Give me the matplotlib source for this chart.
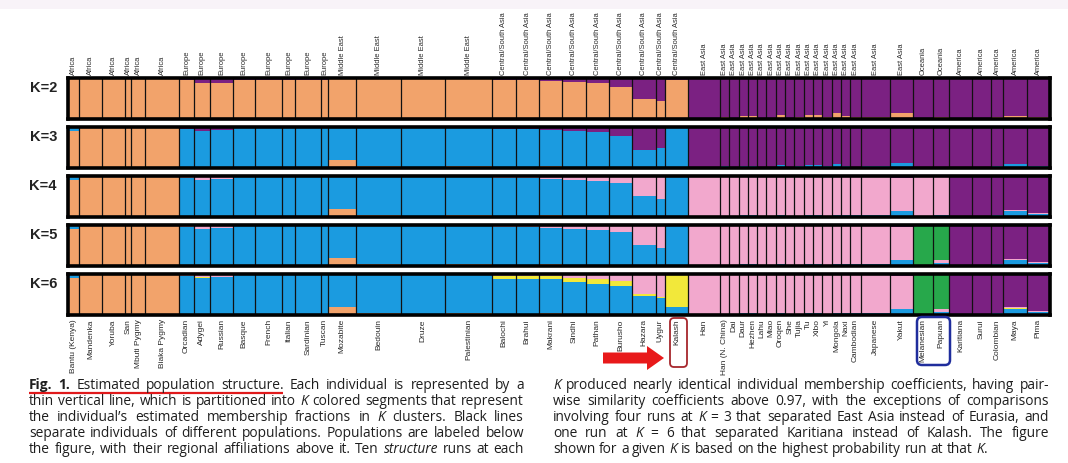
import re
import numpy as np
import matplotlib
matplotlib.use('Agg')
import matplotlib.pyplot as plt
from matplotlib.patches import FancyBboxPatch, FancyArrow, Rectangle

W, H = 1068, 463

# populations, in plot order, with sample sizes (bar widths)
pops = ['Bantu (Kenya)', 'Mandenka', 'Yoruba', 'San', 'Mbuti Pygmy', 'Biaka Pygmy',
        'Orcadian', 'Adygei', 'Russian', 'Basque', 'French', 'Italian', 'Sardinian', 'Tuscan',
        'Mozabite', 'Bedouin', 'Druze', 'Palestinian',
        'Balochi', 'Brahui', 'Makrani', 'Sindhi', 'Pathan', 'Burusho', 'Hazara', 'Uygur', 'Kalash',
        'Han', 'Han (N. China)', 'Dai', 'Daur', 'Hezhen', 'Lahu', 'Miao', 'Oroqen', 'She', 'Tujia',
        'Tu', 'Xibo', 'Yi', 'Mongola', 'Naxi', 'Cambodian', 'Japanese', 'Yakut',
        'Melanesian', 'Papuan',
        'Karitiana', 'Surui', 'Colombian', 'Maya', 'Pima']
sizes = [12, 24, 25, 7, 15, 36,
         16, 17, 25, 24, 29, 13, 28, 8,
         30, 48, 47, 51,
         25, 25, 25, 25, 25, 25, 25, 10, 25,
         34, 10, 10, 10, 10, 10, 10, 10, 10, 10, 10, 10, 10, 10, 10, 11, 31, 25,
         22, 17,
         24, 21, 13, 25, 25]
region_names = ['Africa', 'Europe', 'Middle East', 'Central/South Asia', 'East Asia', 'Oceania', 'America']
region_counts = [6, 8, 4, 9, 18, 2, 5]

# mean membership per population (purple = whatever is left)
k2_orange = [.98, .99, .99, .99, .99, .99,
             .94, .88, .89, .96, .95, .95, .96, .95,
             .97, .98, .97, .98,
             .94, .94, .92, .90, .88, .78, .50, .45, .96,
             .03, .05, .02, .08, .08, .02, .03, .10, .03, .05, .10, .10, .05, .14, .07, .05, .06, .15,
             .03, .04,
             .01, .01, .05, .08, .05]

k3_orange = [.90, .97, .98, .98, .98, .98,
             .01, .01, .01, .01, .01, .01, .01, .01,
             .20, .06, .02, .05,
             .02, .02, .05, .02, .01, .01, .01, .01, .01,
             0, 0, 0, 0, 0, 0, 0, 0, 0, 0, 0, 0, 0, 0, 0, 0, 0, 0,
             0, 0,
             0, 0, 0, 0, 0]
k3_blue = [.09, .02, .01, .01, .01, .01,
           .95, .90, .91, .97, .96, .96, .97, .96,
           .79, .92, .96, .93,
           .92, .92, .88, .88, .87, .77, .44, .49, .96,
           .03, .04, .02, .06, .05, .02, .03, .07, .02, .04, .08, .08, .04, .10, .05, .03, .05, .12,
           .02, .03,
           .01, .01, .04, .10, .05]

k4_orange = k3_orange
k4_blue = [.09, .02, .01, .01, .01, .01,
           .95, .90, .91, .97, .96, .96, .97, .96,
           .79, .92, .96, .93,
           .92, .92, .88, .88, .86, .82, .50, .42, .97,
           .02, .03, .01, .04, .04, .01, .02, .05, .02, .03, .05, .05, .03, .06, .04, .04, .04, .15,
           .03, .04,
           .01, .01, .04, .15, .08]
k4_pink = [.01, .01, .01, .01, .01, .01,
           .02, .07, .06, .01, .02, .02, .01, .02,
           .01, .01, .01, .01,
           .05, .05, .06, .09, .12, .16, .48, .56, .02,
           .96, .95, .97, .94, .94, .97, .96, .93, .96, .95, .93, .93, .95, .92, .94, .94, .94, .80,
           .95, .94,
           0, 0, .01, .02, .01]

k5_orange = k3_orange
k5_blue = k4_blue[:45] + [.0, .07] + k4_blue[47:]
k5_pink = k4_pink[:45] + [.01, .07] + k4_pink[47:]
k5_green = [0] * 45 + [.98, .85] + [0] * 5

k6_orange = k3_orange
k6_blue = k5_blue[:18] + [.86, .86, .82, .79, .74, .69, .46, .40, .18] + k5_blue[27:]
k6_yellow = [0, 0, 0, 0, 0, 0,
             0, .02, .01, 0, 0, 0, 0, 0,
             0, 0, .01, 0,
             .07, .07, .07, .10, .14, .14, .05, .03, .80,
             0, 0, 0, 0, 0, 0, 0, 0, 0, 0, 0, 0, 0, 0, 0, 0, 0, 0,
             0, 0,
             0, 0, 0, .02, 0]
k6_pink = k5_pink[:18] + [.04, .04, .05, .08, .10, .15, .47, .55, .01] + k5_pink[27:]
k6_green = k5_green

colors = {'orange': '#f2a36b', 'blue': '#1b9be0', 'yellow': '#f2e83a',
          'pink': '#f2a8cd', 'green': '#27a84b', 'purple': '#7b2182'}
order = ['orange', 'blue', 'yellow', 'pink', 'green', 'purple']

panels = [
    (2, {'orange': k2_orange}),
    (3, {'orange': k3_orange, 'blue': k3_blue}),
    (4, {'orange': k4_orange, 'blue': k4_blue, 'pink': k4_pink}),
    (5, {'orange': k5_orange, 'blue': k5_blue, 'pink': k5_pink, 'green': k5_green}),
    (6, {'orange': k6_orange, 'blue': k6_blue, 'yellow': k6_yellow, 'pink': k6_pink, 'green': k6_green}),
]

sizes_a = np.array(sizes, dtype=float)
right = np.cumsum(sizes_a)
left = right - sizes_a
centers = left + sizes_a / 2
total = right[-1]
top_labels = np.repeat(region_names, region_counts)

fig = plt.figure(figsize=(W / 100, H / 100), dpi=100)
fig.patch.set_facecolor('white')

x0_px, x1_px = 68, 1050
tops = [78, 127, 176, 225, 274]
ph = 41
LBL = dict(rotation=90, family='Liberation Sans', color='#2a2a2a')

for i, (k, comp) in enumerate(panels):
    ax = fig.add_axes([x0_px / W, 1 - (tops[i] + ph) / H, (x1_px - x0_px) / W, ph / H])
    bottom = np.zeros(len(pops))
    filled = np.zeros(len(pops))
    for c in order[:-1]:
        if c in comp:
            filled += np.array(comp[c])
    for c in order:
        if c == 'purple':
            vals = np.clip(1 - filled, 0, 1)
        elif c in comp:
            vals = np.array(comp[c], dtype=float)
        else:
            continue
        ax.bar(left, vals, width=sizes_a, bottom=bottom, align='edge',
               color=colors[c], linewidth=0)
        bottom += vals
    ax.vlines(right[:-1], 0, 1, color='#111111', lw=0.9)
    ax.set_xlim(0, total)
    ax.set_ylim(0, 1)
    ax.set_yticks([])
    for s in ax.spines.values():
        s.set_linewidth(2.6)
        s.set_color('black')
    if i == 0:
        ax.xaxis.tick_top()
        ax.set_xticks(centers)
        ax.set_xticklabels(top_labels, fontsize=5.4, **LBL)
        ax.tick_params(axis='x', length=0, pad=2)
    elif i == len(panels) - 1:
        ax.set_xticks(centers)
        ax.set_xticklabels(pops, fontsize=6, **LBL)
        ax.tick_params(axis='x', length=0, pad=3)
    else:
        ax.set_xticks([])
    fig.text(57 / W, 1 - (tops[i] + 10) / H, 'K=%d' % k, ha='right', va='center',
             fontsize=10.5, weight='bold', family='Liberation Sans', color='#222222')

# overlay in pixel coordinates for caption and annotations
ov = fig.add_axes([0, 0, 1, 1], zorder=10)
ov.set_xlim(0, W)
ov.set_ylim(H, 0)
ov.axis('off')
ov.patch.set_alpha(0)
ov.add_patch(Rectangle((0, 0), W, 9, color='#f8f3f8', lw=0))

caption_left = [
    "[Fig.] [1.] Estimated population structure. Each individual is represented by a",
    "thin vertical line, which is partitioned into {K} colored segments that represent",
    "the individual\u2019s estimated membership fractions in {K} clusters. Black lines",
    "separate individuals of different populations. Populations are labeled below",
    "the figure, with their regional affiliations above it. Ten {structure} runs at each",
]
caption_right = [
    "{K} produced nearly identical individual membership coefficients, having pair-",
    "wise similarity coefficients above 0.97, with the exceptions of comparisons",
    "involving four runs at {K} = 3 that separated East Asia instead of Eurasia, and",
    "one run at {K} = 6 that separated Karitiana instead of Kalash. The figure",
    "shown for a given {K} is based on the highest probability run at that {K}.",
]

FONT = 'Open Sans'
renderer = fig.canvas.get_renderer()


def make_words(line, fs, yb):
    words = []
    for w in line.split(' '):
        segs = []
        for part in re.split(r'(\{[^}]*\}|\[[^\]]*\])', w):
            if not part:
                continue
            style, weight = 'normal', 'normal'
            if part[0] == '{':
                part, style = part[1:-1], 'italic'
            elif part[0] == '[':
                part, weight = part[1:-1], 'bold'
            t = ov.text(0, yb, part, fontsize=fs, family=FONT, style=style,
                        weight=weight, color='#1e1e1e', va='baseline', ha='left')
            segs.append((t, t.get_window_extent(renderer).width))
        words.append(segs)
    return words


def natural_width(line, fs):
    words = make_words(line, fs, 0)
    wsum = sum(sw for segs in words for _, sw in segs)
    for segs in words:
        for t, _ in segs:
            t.remove()
    return wsum + (len(words) - 1) * fs * 100 / 72 * 0.26


# pick a caption size that fits the justified columns
FS0 = 9.0
ratios = [495 / natural_width(l, FS0) for l in caption_left]
ratios += [496 / natural_width(l, FS0) for l in caption_right[:-1]]
FS = FS0 * min(ratios) * 0.995


def draw_line(line, xa, xb, yb, justify=True):
    words = make_words(line, FS, yb)
    widths = [sum(s[1] for s in segs) for segs in words]
    if justify and len(words) > 1:
        gap = (xb - xa - sum(widths)) / (len(words) - 1)
    else:
        gap = FS * 100 / 72 * 0.26
    x = xa
    for segs, wd in zip(words, widths):
        xx = x
        for t, sw in segs:
            t.set_x(xx)
            xx += sw
        x += wd + gap


baselines = [389, 405, 421, 437, 453]
for j, ln in enumerate(caption_left):
    draw_line(ln, 29, 524, baselines[j])
for j, ln in enumerate(caption_right):
    draw_line(ln, 553, 1049, baselines[j], justify=(j < len(caption_right) - 1))

# red / blue highlights
ov.plot([29, 283], [393, 393], color='#e0191b', lw=1.6, solid_capstyle='butt')
ov.add_patch(FancyArrow(603, 358, 44, 0, width=11, head_width=24, head_length=17,
                        length_includes_head=False, color='#e8191a', lw=0))
ov.add_patch(FancyBboxPatch((670, 318), 17, 49, boxstyle='round,pad=0,rounding_size=4',
                            fc='none', ec='#a6262c', lw=1.3))
ov.add_patch(FancyBboxPatch((917, 317), 33, 48, boxstyle='round,pad=0,rounding_size=5',
                            fc='none', ec='#1f2d9c', lw=1.8))

fig.savefig('out.png', dpi=100)
